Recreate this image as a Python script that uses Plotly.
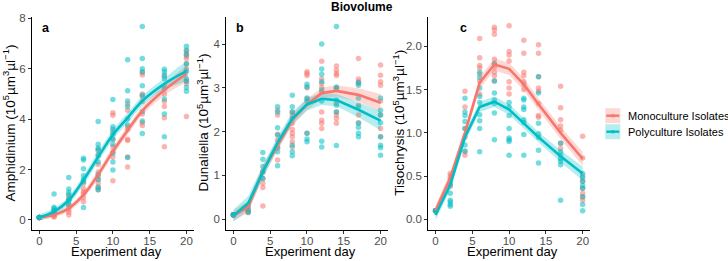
import plotly.graph_objects as go

# ---------------- data ----------------
days = [0, 2, 4, 6, 8, 10, 12, 14, 17, 20]
groups = ["Monoculture Isolates", "Polyculture Isolates"]

# Panel a: Amphidinium, replicate points per day
a_mono_pts = [
    [0.1, 0.1, 0.1, 0.1, 0.1, 0.1],
    [0.35, 0.25, 0.2, 0.15, 0.12],
    [0.95, 0.8, 0.6, 0.5, 0.4, 0.3, 0.2],
    [1.45, 1.25, 1.12, 1.05, 0.88, 0.72],
    [2.8, 2.6, 2.2, 1.9, 1.75, 1.6, 1.45, 1.3, 1.2],
    [4.25, 4.15, 3.5, 3.2, 2.9, 2.7, 2.5, 1.55],
    [4.6, 4.35, 3.7, 3.6, 3.2, 3.15, 2.5, 2.1],
    [5.85, 5.75, 5.0, 4.9, 4.7, 4.2, 3.85, 3.75],
    [5.7, 5.3, 5.0, 4.7, 4.5, 4.05, 2.9],
    [6.7, 6.6, 6.5, 6.4, 6.2, 6.0, 5.5, 5.4, 4.1],
]
a_poly_pts = [
    [0.1, 0.1, 0.1, 0.1, 0.1],
    [1.03, 0.5, 0.45, 0.38, 0.3, 0.25],
    [1.68, 1.23, 1.1, 1.0, 0.82, 0.75, 0.6],
    [2.45, 2.38, 2.03, 1.75, 1.6, 1.52, 0.49],
    [3.9, 3.0, 2.85, 2.75, 2.55, 2.3, 1.8, 1.6, 1.3, 1.2],
    [4.78, 3.7, 3.6, 3.4, 3.2, 3.0, 2.64, 2.3, 1.98],
    [6.35, 5.12, 4.72, 4.5, 4.0, 3.78, 2.48],
    [7.67, 6.4, 6.0, 5.88, 5.32, 4.95, 4.3, 3.92, 3.43],
    [5.98, 5.88, 5.75, 5.6, 5.19, 4.8, 4.2, 3.3],
    [6.89, 6.73, 6.55, 6.2, 5.9, 5.6, 5.5, 5.25, 5.1],
]
a_mono_fit = [0.1, 0.2, 0.46, 0.99, 1.8, 2.72, 3.55, 4.33, 5.15, 5.8]
a_poly_fit = [0.1, 0.33, 0.78, 1.58, 2.5, 3.38, 4.05, 4.72, 5.4, 5.9]
a_mono_ci = [0.1, 0.1, 0.12, 0.14, 0.16, 0.17, 0.17, 0.17, 0.2, 0.25]
a_poly_ci = [0.12, 0.14, 0.16, 0.18, 0.2, 0.2, 0.2, 0.2, 0.22, 0.32]

# Panel b: Dunaliella
b_mono_pts = [
    [0.1, 0.1, 0.1, 0.1, 0.08],
    [0.25, 0.21, 0.17, 0.15],
    [1.08, 0.93, 0.82, 0.72, 0.3],
    [2.49, 2.38, 1.94, 1.8, 1.62, 1.35],
    [2.45, 2.38, 2.19, 2.05, 1.96, 1.88, 1.77, 1.65],
    [3.37, 3.33, 3.28, 3.0, 2.75, 1.96],
    [3.61, 3.2, 3.1, 3.0, 2.9, 2.45, 2.26, 2.19, 2.07],
    [3.5, 3.4, 3.33, 3.28, 2.99, 2.65, 2.45, 2.38, 2.3, 2.19],
    [3.67, 3.2, 3.14, 3.1, 2.6, 2.38, 2.2],
    [3.52, 3.29, 3.14, 3.06, 2.7, 2.38, 2.07, 1.88],
]
b_poly_pts = [
    [0.1, 0.1, 0.1, 0.1],
    [0.3, 0.2, 0.15],
    [1.52, 1.37, 1.2, 1.08, 0.93],
    [2.57, 2.45, 2.09, 1.92, 1.65, 1.54, 1.22],
    [2.83, 2.57, 2.45, 2.3, 1.69, 1.54, 1.45],
    [3.08, 3.02, 2.77, 2.7, 1.96, 1.83, 1.77],
    [4.0, 3.43, 3.31, 3.14, 2.95, 2.7, 1.78, 1.65],
    [4.4, 3.02, 2.99, 2.72, 2.6, 2.45, 1.68],
    [3.12, 3.06, 2.76, 2.57, 2.19, 2.1, 1.96, 1.88],
    [2.77, 2.49, 2.38, 2.2, 1.88, 1.69, 1.63, 1.46],
]
b_mono_fit = [0.08, 0.28, 1.1, 1.7, 2.27, 2.62, 2.88, 2.93, 2.84, 2.66]
b_poly_fit = [0.08, 0.36, 1.08, 1.75, 2.3, 2.62, 2.75, 2.72, 2.5, 2.25]
b_mono_ci = [0.12, 0.14, 0.14, 0.13, 0.13, 0.13, 0.13, 0.13, 0.15, 0.2]
b_poly_ci = [0.14, 0.16, 0.15, 0.14, 0.14, 0.14, 0.14, 0.14, 0.17, 0.22]

# Panel c: Tisochrysis
c_mono_pts = [
    [0.1, 0.1, 0.1, 0.1],
    [0.53, 0.5, 0.47, 0.42, 0.38],
    [1.48, 1.3, 1.05, 0.95, 0.78, 0.74],
    [2.09, 1.87, 1.78, 1.75, 1.68, 1.6, 1.45],
    [2.22, 2.19, 2.14, 1.85, 1.8, 1.76, 1.7, 1.66, 1.6],
    [2.24, 1.94, 1.9, 1.83, 1.59, 1.52, 1.45],
    [2.07, 1.92, 1.7, 1.66, 1.59, 1.56, 1.5],
    [2.02, 1.92, 1.65, 1.52, 1.48, 1.34, 1.2, 1.18],
    [1.54, 1.29, 1.15, 1.08, 1.03, 0.88, 0.82],
    [0.96, 0.71, 0.5, 0.44, 0.36, 0.3, 0.26, 0.22],
]
c_poly_pts = [
    [0.1, 0.1, 0.1],
    [0.4, 0.3, 0.22, 0.2, 0.17, 0.15],
    [1.4, 1.24, 1.2, 1.13, 1.05, 0.86, 0.79],
    [1.7, 1.64, 1.52, 1.42, 1.35, 1.21, 1.14, 1.05, 0.78],
    [1.8, 1.6, 1.46, 1.38, 1.34, 1.23, 0.92],
    [1.35, 1.3, 1.2, 1.05, 0.94, 0.92, 0.9, 0.74],
    [1.4, 1.38, 1.3, 1.27, 1.15, 1.12, 0.98, 0.74],
    [1.65, 1.46, 1.11, 0.99, 0.95, 0.8, 0.65],
    [0.88, 0.78, 0.74, 0.7, 0.67, 0.63, 0.22],
    [0.53, 0.48, 0.44, 0.39, 0.36, 0.26, 0.17, 0.1],
]
c_mono_fit = [0.1, 0.48, 1.0, 1.58, 1.79, 1.74, 1.56, 1.33, 1.0, 0.7]
c_poly_fit = [0.05, 0.4, 0.95, 1.3, 1.36, 1.27, 1.11, 0.95, 0.73, 0.53]
c_mono_ci = [0.06, 0.06, 0.06, 0.07, 0.07, 0.07, 0.07, 0.07, 0.07, 0.08]
c_poly_ci = [0.06, 0.06, 0.06, 0.06, 0.06, 0.06, 0.06, 0.06, 0.07, 0.08]

panel_letters = ["a", "b", "c"]
y_titles = [
    "Amphidinium (10<sup>5</sup>µm<sup>3</sup>µl<sup>−1</sup>)",
    "Dunaliella (10<sup>5</sup>µm<sup>3</sup>µl<sup>−1</sup>)",
    "Tisochrysis (10<sup>5</sup>µm<sup>3</sup>µl<sup>−1</sup>)",
]
x_title = "Experiment day"
main_title = "Biovolume"

# ---------------- styling ----------------
W, H = 728, 261
RED, CYAN = "#F8766D", "#00BFC4"
RED_PT, CYAN_PT = "rgba(248,118,109,0.55)", "rgba(0,191,196,0.55)"
RED_RIB, CYAN_RIB = "rgba(248,118,109,0.28)", "rgba(0,191,196,0.28)"
FONT = "Liberation Sans, Arial, sans-serif"

# plot-area pixel layout
L, R, T, B = 32, 589.7, 17, 230
PW = R - L
panels_px = [(32, 193.7), (226, 387.7), (428, 589.7)]
ytitle_x = [9.5, 202.5, 398.5]
y_ranges = [[-0.4, 8.05], [-0.25, 4.62], [-0.124, 2.34]]
y_ticks = [[0, 2, 4, 6, 8], [0, 1, 2, 3, 4], [0, 0.5, 1.0, 1.5, 2.0]]
y_fmt = ["d", "d", ".1f"]

panels = [
    (a_mono_pts, a_poly_pts, a_mono_fit, a_poly_fit, a_mono_ci, a_poly_ci, "spline"),
    (b_mono_pts, b_poly_pts, b_mono_fit, b_poly_fit, b_mono_ci, b_poly_ci, "linear"),
    (c_mono_pts, c_poly_pts, c_mono_fit, c_poly_fit, c_mono_ci, c_poly_ci, "linear"),
]

fig = go.Figure()


def flat(pts):
    xs, ys = [], []
    for d, vals in zip(days, pts):
        for v in vals:
            xs.append(d)
            ys.append(v)
    return xs, ys


for i, (mp, pp, mf, pf, mc, pc, shape) in enumerate(panels):
    xa = "x" if i == 0 else f"x{i+1}"
    ya = "y" if i == 0 else f"y{i+1}"
    for pts, col in ((mp, RED_PT), (pp, CYAN_PT)):
        xs, ys = flat(pts)
        fig.add_trace(go.Scatter(x=xs, y=ys, mode="markers", xaxis=xa, yaxis=ya,
                                 marker=dict(size=5.5, color=col, line=dict(width=0)),
                                 showlegend=False, hoverinfo="skip"))
    for fit, ci, rib in ((mf, mc, RED_RIB), (pf, pc, CYAN_RIB)):
        upper = [f + c for f, c in zip(fit, ci)]
        lower = [f - c for f, c in zip(fit, ci)]
        fig.add_trace(go.Scatter(x=days + days[::-1], y=upper + lower[::-1],
                                 mode="lines", fill="toself", fillcolor=rib,
                                 line=dict(width=0, shape=shape), xaxis=xa, yaxis=ya,
                                 showlegend=False, hoverinfo="skip"))
    for fit, col in ((mf, RED), (pf, CYAN)):
        fig.add_trace(go.Scatter(x=days, y=fit, mode="lines", xaxis=xa, yaxis=ya,
                                 line=dict(color=col, width=2.6, shape=shape),
                                 showlegend=False, hoverinfo="skip"))

axis_common = dict(showline=True, linecolor="#000000", linewidth=1, ticks="outside",
                   ticklen=3, tickwidth=1, tickcolor="#333333", showgrid=False,
                   zeroline=False, automargin=False,
                   tickfont=dict(family=FONT, size=11.5, color="#4D4D4D"))

layout = dict(width=W, height=H, margin=dict(l=L, r=W - R, t=T, b=H - B),
              plot_bgcolor="white", paper_bgcolor="white", showlegend=False,
              font=dict(family=FONT, color="#000000"))

for i in range(3):
    x0, x1 = panels_px[i]
    sx = "" if i == 0 else str(i + 1)
    layout["xaxis" + sx] = dict(axis_common, domain=[(x0 - L) / PW, (x1 - L) / PW],
                                range=[-1, 21], tickvals=[0, 5, 10, 15, 20],
                                ticklabelstandoff=-3, anchor="y" + sx)
    layout["yaxis" + sx] = dict(axis_common, domain=[0, 1], range=y_ranges[i],
                                tickvals=y_ticks[i], tickformat=y_fmt[i],
                                anchor="x" + sx)

fig.update_layout(**layout)


def px(x):
    return (x - L) / PW


def py(y):
    return (B - y) / (B - T)


ann = []
ann.append(dict(text="<b>" + main_title + "</b>", x=px(361.7), y=py(7.5), xref="paper",
                yref="paper", showarrow=False, xanchor="center", yanchor="middle",
                font=dict(family=FONT, size=12, color="#000000")))
letter_x = [45.7, 239.5, 463]
for lx, lt in zip(letter_x, panel_letters):
    ann.append(dict(text="<b>" + lt + "</b>", x=px(lx), y=py(27.5), xref="paper",
                    yref="paper", showarrow=False, xanchor="center", yanchor="middle",
                    font=dict(family=FONT, size=12.5, color="#000000")))

# axis titles
for i in range(3):
    x0, x1 = panels_px[i]
    ann.append(dict(text=x_title, x=px((x0 + x1) / 2 + 3.5), y=py(251.5), xref="paper",
                    yref="paper", showarrow=False, xanchor="center", yanchor="middle",
                    font=dict(family=FONT, size=13, color="#000000")))
    ann.append(dict(text=y_titles[i], x=px(ytitle_x[i]), y=py(123), xref="paper",
                    yref="paper", showarrow=False, xanchor="center", yanchor="middle",
                    textangle=-90, font=dict(family=FONT, size=13.5, color="#000000")))

# legend (manual, ggplot-style keys)
shapes = []
key_y = [115.7, 131.7]
for ky, rib, col, name in ((key_y[0], RED_RIB, RED, groups[0]), (key_y[1], CYAN_RIB, CYAN, groups[1])):
    shapes.append(dict(type="rect", xref="paper", yref="paper", x0=px(605), x1=px(620),
                       y0=py(ky + 7.5), y1=py(ky - 7.5), fillcolor=rib, line=dict(width=0)))
    shapes.append(dict(type="line", xref="paper", yref="paper", x0=px(606), x1=px(619),
                       y0=py(ky), y1=py(ky), line=dict(color=col, width=2.4)))
    shapes.append(dict(type="circle", xref="paper", yref="paper", x0=px(610.5), x1=px(614.5),
                       y0=py(ky + 2), y1=py(ky - 2), fillcolor=col, line=dict(width=0),
                       opacity=0.6))
    ann.append(dict(text=name, x=px(626), y=py(ky), xref="paper", yref="paper",
                    showarrow=False, xanchor="left", yanchor="middle",
                    font=dict(family=FONT, size=11, color="#000000")))

fig.update_layout(annotations=ann, shapes=shapes)
fig.write_html("out.html")
